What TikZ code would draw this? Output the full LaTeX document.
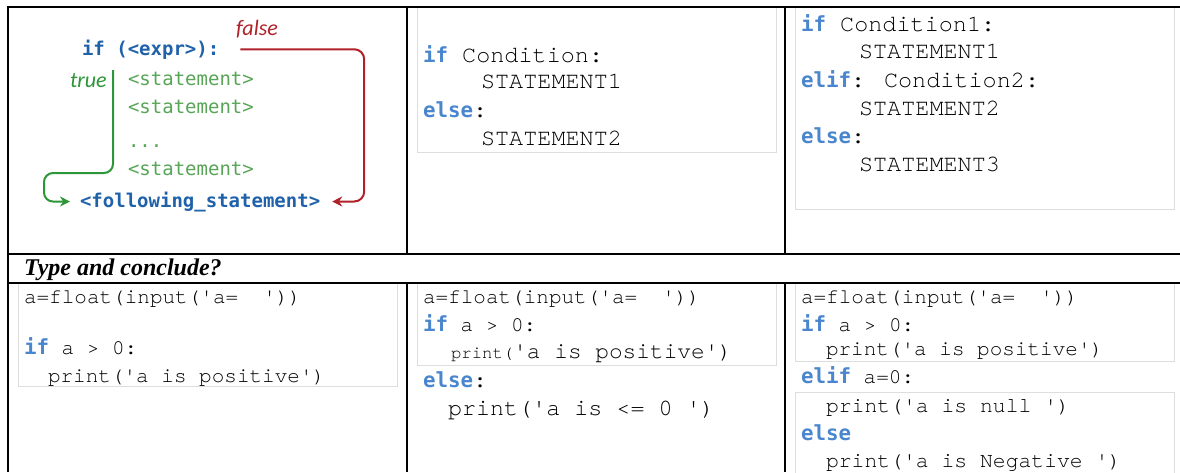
\documentclass[tikz,border=0pt]{standalone}
\usepackage{fontspec}
\setmainfont{Liberation Serif}
\newfontfamily\cour{texgyrecursor-regular.otf}[Ligatures={TeXOff,NoCommon}]
\newfontfamily\dvmono{DejaVu Sans Mono}[Ligatures=TeXOff]
\newfontfamily\carl{Carlito}
\usetikzlibrary{arrows.meta}
\definecolor{kwblue}{RGB}{74,134,206}
\definecolor{imgblue}{RGB}{32,98,170}
\definecolor{stmtgreen}{RGB}{88,165,88}
\definecolor{arrgreen}{RGB}{44,150,56}
\definecolor{arrred}{RGB}{176,32,40}
\definecolor{boxgray}{RGB}{222,222,222}
\newcommand\fs[1]{\fontsize{#1}{#1}\selectfont}
\newcommand\kwd[1]{{\dvmono\bfseries\fs{20.8}\color{kwblue}#1}}
\newcommand\wsp[1]{\hspace*{#1em}}
\tikzset{
  code/.style={anchor=base west, inner sep=0pt, outer sep=0pt, text=black},
  bigcode/.style={code, font=\cour\fs{23.5}},
  smallcode/.style={code, font=\cour\fs{21}},
  imgcode/.style={code, font=\dvmono\bfseries\fs{19}, text=imgblue},
  imgstmt/.style={code, font=\dvmono\fs{19}, text=stmtgreen},
  imglabel/.style={code, font=\carl\itshape\fs{22}},
  rule/.style={line width=2pt, black},
  codebox/.style={draw=boxgray, line width=1pt, fill=white},
  redarr/.style={draw=arrred, line width=2pt, rounded corners=10pt, -{Stealth[length=10pt,width=10pt]}},
  greenarr/.style={draw=arrgreen, line width=2pt, rounded corners=9pt, -{Stealth[length=10pt,width=10pt]}}
}
\begin{document}
\begin{tikzpicture}[x=1pt,y=-1pt]
\useasboundingbox (0,0) rectangle (1180,472);
\fill[white] (0,0) rectangle (1180,472);
% code boxes
\draw[codebox] (417,6) rectangle (776,152);
\draw[codebox] (795,6) rectangle (1174,209);
\draw[codebox] (18,283) rectangle (397,386);
\draw[codebox] (417,283) rectangle (776,365);
\draw[codebox] (795,283) rectangle (1174,361);
\draw[codebox] (795,392) rectangle (1174,474);
% table rules
\draw[rule] (6.5,6.5) -- (1180,6.5);
\draw[rule] (6.5,254) -- (1180,254);
\draw[rule] (6.5,283) -- (1180,283);
\draw[rule] (7.5,5.5) -- (7.5,472);
\draw[rule] (407,6.5) -- (407,254);
\draw[rule] (407,283) -- (407,472);
\draw[rule] (785,6.5) -- (785,254);
\draw[rule] (785,283) -- (785,472);

% ---- cell 1: picture of if statement
\node[imgcode] (ifexpr) at (82,55) {if (<expr>):};
\node[imglabel, text=arrred] (falselbl) at (236,35) {false};
\node[imglabel, text=arrgreen] (truelbl) at (70,87) {true};
\node[imgstmt] (st1) at (128,85) {<statement>};
\node[imgstmt] (st2) at (128,113) {<statement>};
\node[imgstmt] (st3) at (128,147) {...};
\node[imgstmt] (st4) at (128,175) {<statement>};
\node[imgcode] (follow) at (80,207) {<following\_statement>};
\coordinate (gtop) at (113,70);
\coordinate (gbend) at (44,173);
\draw[redarr] ([xshift=21pt]ifexpr.east) -| ([xshift=44pt]follow.east) -- ([xshift=12pt]follow.east);
\draw[greenarr] (gtop) |- (gbend) |- ([xshift=-10pt]follow.west);

% ---- cell 2: if / else
\node[bigcode] (c2a) at (423,62) {\kwd{if} Condition:};
\node[bigcode] (c2b) at (481,88) {STATEMENT1};
\node[bigcode] (c2c) at (423,117) {\kwd{else}:};
\node[bigcode] (c2d) at (481,145) {STATEMENT2};

% ---- cell 3: if / elif / else
\node[bigcode] (c3a) at (801,31) {\kwd{if} Condition1:};
\node[bigcode] (c3b) at (859,58) {STATEMENT1};
\node[bigcode] (c3c) at (801,87) {\kwd{elif}: Condition2:};
\node[bigcode] (c3d) at (859,115) {STATEMENT2};
\node[bigcode] (c3e) at (801,143) {\kwd{else}:};
\node[bigcode] (c3f) at (859,171) {STATEMENT3};

% ---- merged row
\node[code, font=\bfseries\itshape\fs{24}] (tc) at (24,275) {Type and conclude?};

% ---- row 2 cell 1
\node[smallcode] (r1a) at (24,303) {a=float(input('a=\wsp{1.2}'))};
\node[smallcode] (r1b) at (24,354) {\kwd{if} a > 0:};
\node[smallcode] (r1c) at (48,382) {print('a is positive')};

% ---- row 2 cell 2
\node[smallcode] (r2a) at (423,303) {a=float(input('a=\wsp{1.2}'))};
\node[smallcode] (r2b) at (423,331) {\kwd{if} a > 0:};
\node[code, font=\cour] (r2c) at (451,358) {{\fs{17.3}print(}{\fs{22.8}'a is positive')}};
\node[bigcode] (r2d) at (423,387) {\kwd{else}:};
\node[code, font=\cour\fs{23.4}] (r2e) at (448,415) {print('a is <= 0\wsp{0.6}')};

% ---- row 2 cell 3
\node[smallcode] (r3a) at (801,303) {a=float(input('a=\wsp{1.2}'))};
\node[smallcode] (r3b) at (801,331) {\kwd{if} a > 0:};
\node[smallcode] (r3c) at (826,355) {print('a is positive')};
\node[smallcode] (r3d) at (801,383) {\kwd{elif} a=0:};
\node[code, font=\cour\fs{21.4}] (r3e) at (826,412) {print('a is null\wsp{0.6}')};
\node[smallcode] (r3f) at (801,440) {\kwd{else}};
\node[code, font=\cour\fs{21.4}] (r3g) at (826,467) {print('a is Negative\wsp{0.6}')};
\end{tikzpicture}
\end{document}
